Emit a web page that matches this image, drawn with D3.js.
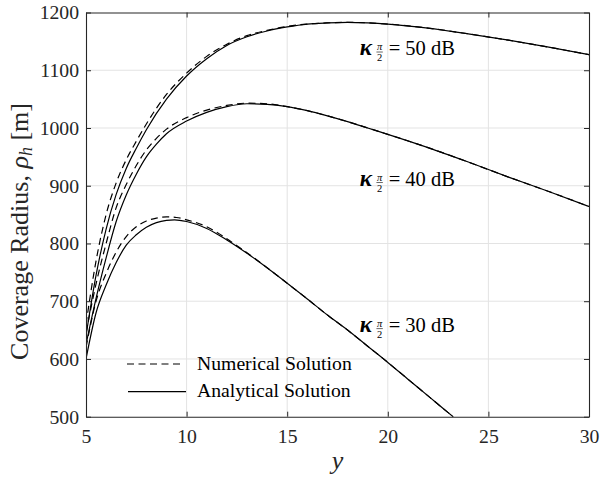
<!DOCTYPE html>
<html>
<head>
<meta charset="utf-8">
<script src="https://cdn.jsdelivr.net/npm/d3@7"></script>
<style>
  html, body { margin: 0; padding: 0; background: #fff; }
  svg { display: block; }
  svg text { font-family: "Liberation Serif", "DejaVu Serif", Tinos, "Times New Roman", Times, "Noto Serif", serif; }
</style>
</head>
<body>
<svg id="chart" width="602" height="477"></svg>
<script>
// Coverage radius versus y for three antenna gains
const xTicks = [5, 10, 15, 20, 25, 30];
const yTicks = [500, 600, 700, 800, 900, 1000, 1100, 1200];

// Analytical solution (solid)
const ana50 = [[5,640],[5.5,745],[6,825],[6.5,885],[7,930],[7.5,965],[8,997],[9,1050],[10,1090],[11,1120],[12,1143],[13,1158],[14,1168],[15,1175],[16,1180],[17,1182],[18,1183],[19,1182],[20,1180],[22,1173],[24,1163],[26,1152],[28,1140],[30,1127]];
const ana40 = [[5,625],[5.5,705],[6,775],[6.5,838],[7,884],[7.5,920],[8,950],[8.5,972],[9,990],[10,1012],[11,1027],[12,1037],[13,1042],[14,1041],[15,1037],[16,1030],[17,1021],[18,1011],[19,1000],[20,989],[22,966],[24,941],[26,915],[28,890],[30,864]];
const ana30 = [[5,600],[5.5,680],[6,728],[6.5,767],[7,797],[7.5,815],[8,828],[8.5,836],[9,840],[9.4,841],[10,838],[11,826],[12,806],[13,783],[14,758],[15,731],[16,704],[17,676],[18,650],[19,622],[20,594],[21,565],[22,536],[23,507],[23.25,500]];

// Numerical solution (dashed)
const num50 = [[5,660],[5.5,770],[6,850],[6.5,905],[7,945],[7.5,977],[8,1007],[9,1058],[10,1095],[11,1124],[12,1145],[13,1160],[14,1169],[15,1176],[16,1180],[17,1182],[18,1183],[19,1182],[20,1180],[22,1173],[24,1163],[26,1152],[28,1140],[30,1127]];
const num40 = [[5,645],[5.5,730],[6,800],[6.5,862],[7,902],[7.5,935],[8,962],[8.5,982],[9,998],[10,1018],[11,1031],[12,1039],[13,1043],[14,1042],[15,1037],[16,1030],[17,1021],[18,1011],[19,1000],[20,989],[22,966],[24,941],[26,915],[28,890],[30,864]];
const num30 = [[5,620],[5.5,700],[6,748],[6.5,785],[7,812],[7.5,829],[8,839],[8.5,844],[9,846],[9.5,845],[10,841],[11,829],[12,808],[13,784],[14,758],[15,731],[16,704],[17,676],[18,650],[19,622],[20,594],[21,565],[22,536],[23,507],[23.25,500]];

const gainLabels = ["50", "40", "30"];
const gainLabelPos = [[18.6, 1126], [18.6, 900], [18.6, 647]];
const legendLabels = ["Numerical Solution", "Analytical Solution"];

const serif = '"Liberation Serif", "DejaVu Serif", Tinos, "Times New Roman", Times, "Noto Serif", serif';
const svg = d3.select("#chart").style("font-family", serif);
const L = 86, R = 589, T = 12.5, B = 416.7;
const x = d3.scaleLinear().domain([5, 30]).range([L, R]);
const y = d3.scaleLinear().domain([500, 1200]).range([B, T]);
const axisColor = "#262626";

// grid
const grid = svg.append("g");
grid.selectAll("line.gx").data(xTicks.slice(1, -1)).join("line")
  .attr("x1", d => x(d)).attr("x2", d => x(d)).attr("y1", T).attr("y2", B)
  .attr("stroke", "#e3e3e3").attr("stroke-width", 1);
grid.selectAll("line.gy").data(yTicks.slice(1, -1)).join("line")
  .attr("x1", L).attr("x2", R).attr("y1", d => y(d)).attr("y2", d => y(d))
  .attr("stroke", "#e3e3e3").attr("stroke-width", 1);

// curves
svg.append("defs").append("clipPath").attr("id", "plotclip")
  .append("rect").attr("x", L).attr("y", T).attr("width", R - L).attr("height", B - T);
const line = d3.line().x(d => x(d[0])).y(d => y(d[1])).curve(d3.curveMonotoneX);
const curves = svg.append("g").attr("clip-path", "url(#plotclip)");
[num50, num40, num30].forEach(s => curves.append("path").attr("d", line(s))
  .attr("fill", "none").attr("stroke", "#000").attr("stroke-width", 1.2).attr("stroke-dasharray", "7,4.5"));
[ana50, ana40, ana30].forEach(s => curves.append("path").attr("d", line(s))
  .attr("fill", "none").attr("stroke", "#000").attr("stroke-width", 1.2));

// axes (box with inward ticks)
const tickLen = 5;
const fmt = d3.format("d");
const axB = svg.append("g").attr("transform", `translate(0,${B})`)
  .call(d3.axisBottom(x).tickValues(xTicks).tickFormat(fmt).tickSizeInner(-tickLen).tickSizeOuter(0).tickPadding(12));
const axT = svg.append("g").attr("transform", `translate(0,${T})`)
  .call(d3.axisTop(x).tickValues(xTicks).tickSizeInner(-tickLen).tickSizeOuter(0).tickFormat(""));
const axL = svg.append("g").attr("transform", `translate(${L},0)`)
  .call(d3.axisLeft(y).tickValues(yTicks).tickFormat(fmt).tickSizeInner(-tickLen).tickSizeOuter(0).tickPadding(7));
const axR = svg.append("g").attr("transform", `translate(${R},0)`)
  .call(d3.axisRight(y).tickValues(yTicks).tickSizeInner(-tickLen).tickSizeOuter(0).tickFormat(""));
[axB, axT, axL, axR].forEach(a => {
  a.attr("font-family", null);
  a.select(".domain").attr("stroke", axisColor).attr("stroke-width", 1.1);
  a.selectAll(".tick line").attr("stroke", axisColor).attr("stroke-width", 1);
  a.selectAll(".tick text").attr("fill", axisColor)
    .style("font-family", serif).style("font-size", "19.7px");
});
axB.selectAll(".tick text").attr("dy", "0.71em");

// axis labels
svg.append("text").attr("x", x(17.5)).attr("y", 469).attr("text-anchor", "middle")
  .style("font-size", "26px").style("font-style", "italic").attr("fill", axisColor).text("y");

const yl = svg.append("text").attr("transform", "translate(28,231.5) rotate(-90)")
  .attr("text-anchor", "middle").style("font-size", "26px").attr("fill", axisColor);
yl.append("tspan").text("Coverage Radius, ");
yl.append("tspan").style("font-style", "italic").text("ρ");
yl.append("tspan").style("font-style", "italic").style("font-size", "18px").attr("dy", 4).text("h");
yl.append("tspan").attr("dy", -4).text(" [m]");

// gain annotations: κ_{π/2} = N dB
gainLabels.forEach((g, i) => {
  const bx = x(gainLabelPos[i][0]), by = y(gainLabelPos[i][1]);
  const grp = svg.append("g").attr("transform", `translate(${bx},${by})`);
  grp.append("text").attr("x", 0).attr("y", 0).style("font-size", "23px")
    .style("font-style", "italic").style("font-weight", "bold").attr("fill", "#000").text("κ");
  grp.append("text").attr("x", 20).attr("y", -5).attr("text-anchor", "middle")
    .style("font-size", "10.5px").style("font-style", "italic").attr("fill", "#000").text("π");
  grp.append("line").attr("x1", 16.8).attr("x2", 23.2).attr("y1", -3.2).attr("y2", -3.2)
    .attr("stroke", "#000").attr("stroke-width", 0.6);
  grp.append("text").attr("x", 20).attr("y", 6).attr("text-anchor", "middle")
    .style("font-size", "10.5px").attr("fill", "#000").text("2");
  grp.append("text").attr("x", 29).attr("y", 0).style("font-size", "20.5px")
    .attr("fill", "#000").text("= " + g + " dB");
});

// legend
const leg = svg.append("g");
leg.append("line").attr("x1", 127).attr("x2", 183).attr("y1", 364).attr("y2", 364)
  .attr("stroke", "#000").attr("stroke-width", 1.2).attr("stroke-dasharray", "7,4.5");
leg.append("line").attr("x1", 128).attr("x2", 186).attr("y1", 391.7).attr("y2", 391.7)
  .attr("stroke", "#000").attr("stroke-width", 1.2);
leg.selectAll("text.lg").data(legendLabels).join("text")
  .attr("x", 197).attr("y", (d, i) => 370 + i * 27)
  .style("font-size", "19.7px").attr("fill", "#000").text(d => d);
</script>
</body>
</html>
